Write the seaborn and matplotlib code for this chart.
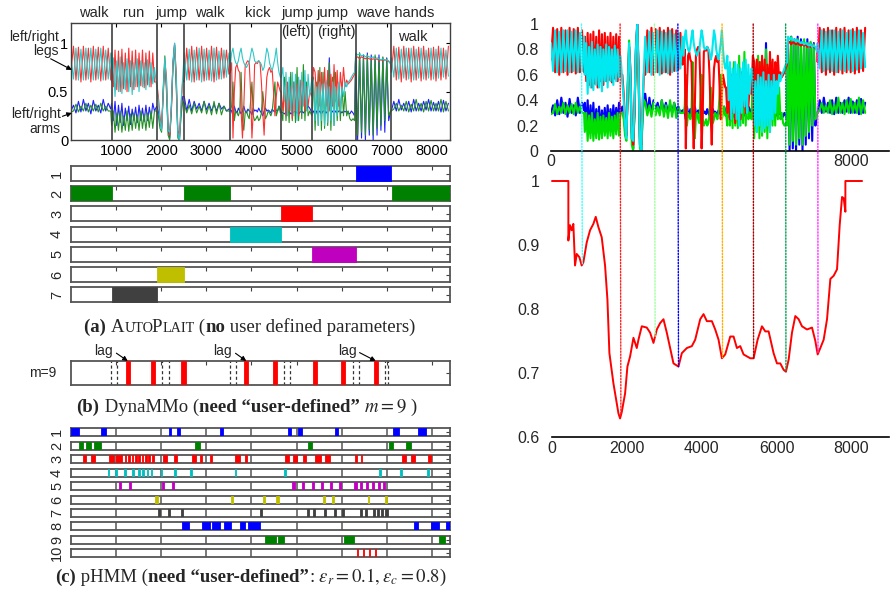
import numpy as np
import pandas as pd
import matplotlib
matplotlib.use("Agg")
import matplotlib.pyplot as plt
import seaborn as sns
from matplotlib.patches import ConnectionPatch
from matplotlib.offsetbox import TextArea, HPacker, AnnotationBbox

sns.set_style("white")
plt.rcParams["font.family"] = ["Liberation Sans", "DejaVu Sans"]
plt.rcParams["mathtext.fontset"] = "stix"

# ---------------- data ----------------
SEG_START = [0, 900, 1900, 2510, 3530, 4660, 5340, 6310, 7100]
SEG_STEP = [55, 38, 36, 55, 30, 35, 35, 43, 55]
BOUNDARIES = [900, 1900, 2510, 3530, 4660, 5340, 6310, 7090]

RED_LEG = [
    [0.72, 0.97, 0.62, 0.96, 0.60, 0.97, 0.62, 0.95, 0.60, 0.97, 0.62, 0.96, 0.61, 0.97, 0.62, 0.95, 0.62],
    [0.9, 0.55, 0.93, 0.52, 0.92, 0.5, 0.94, 0.53, 0.9, 0.5, 0.95, 0.55, 0.92, 0.52, 0.93, 0.55, 0.9, 0.56, 0.93, 0.54, 0.9, 0.57, 0.92, 0.55, 0.9, 0.6],
    [0.6, 0.45, 0.25, 0.12, 0.45, 0.82, 0.65, 0.15, 0.05, 0.3, 0.75, 0.98, 0.7, 0.1, 0.05, 0.35, 0.62],
    [0.6, 0.95, 0.62, 0.97, 0.6, 0.96, 0.62, 0.97, 0.61, 0.95, 0.62, 0.97, 0.6, 0.96, 0.63, 0.95, 0.64, 0.93, 0.68],
    [0.7, 0.8, 0.02, 0.5, 0.75, 0.78, 0.72, 0.7, 0.3, 0.02, 0.35, 0.76, 0.8, 0.82, 0.8, 0.5, 0.02, 0.3, 0.78, 0.8,
     0.79, 0.82, 0.8, 0.6, 0.3, 0.05, 0.4, 0.65, 0.72, 0.75, 0.7, 0.72, 0.5, 0.25, 0.45, 0.6, 0.55, 0.5],
    [0.5, 0.3, 0.55, 0.25, 0.6, 0.3, 0.55, 0.22, 0.6, 0.3, 0.58, 0.25, 0.62, 0.35, 0.6, 0.3, 0.55, 0.35, 0.5],
    [0.45, 0.75, 0.7, 0.4, 0.72, 0.35, 0.7, 0.4, 0.75, 0.35, 0.72, 0.3, 0.68, 0.35, 0.78, 0.4, 0.72, 0.35, 0.7, 0.5,
     0.75, 0.55, 0.62, 0.58, 0.6, 0.62, 0.65, 0.68],
    [0.85, 0.86, 0.84, 0.86, 0.85, 0.84, 0.85, 0.84, 0.83, 0.84, 0.83, 0.84, 0.82, 0.83, 0.82, 0.83, 0.82, 0.81, 0.8],
    [0.7, 0.97, 0.62, 0.96, 0.6, 0.97, 0.62, 0.95, 0.6, 0.97, 0.62, 0.96, 0.61, 0.97, 0.62, 0.95, 0.62, 0.96, 0.61, 0.97,
     0.62, 0.95, 0.63, 0.97],
]
CYAN_LEG = [
    [0.85, 0.63, 0.95, 0.62, 0.94, 0.62, 0.95, 0.63, 0.95, 0.62, 0.94, 0.63, 0.95, 0.62, 0.93, 0.63, 0.90],
    [0.6, 0.85, 0.45, 0.82, 0.5, 0.86, 0.48, 0.8, 0.52, 0.84, 0.5, 0.82, 0.47, 0.8, 0.55, 0.84, 0.5, 0.82, 0.55, 0.8, 0.52, 0.83, 0.55, 0.8, 0.58, 0.75],
    [0.55, 0.4, 0.2, 0.1, 0.5, 0.85, 0.6, 0.1, 0.08, 0.35, 0.8, 1.0, 0.65, 0.05, 0.0, 0.4, 0.65],
    [0.9, 0.62, 0.94, 0.6, 0.93, 0.62, 0.95, 0.6, 0.94, 0.62, 0.93, 0.61, 0.95, 0.62, 0.92, 0.63, 0.93, 0.65, 0.9],
    [0.75, 0.9, 0.95, 0.85, 0.8, 0.78, 0.82, 0.9, 0.95, 0.85, 0.8, 0.77, 0.75, 0.78, 0.8, 0.88, 0.95, 0.9, 0.82, 0.8,
     0.81, 0.82, 0.8, 0.78, 0.72, 0.75, 0.85, 0.95, 0.9, 0.8, 0.75, 0.72, 0.78, 0.85, 0.95, 0.8, 0.7, 0.65],
    [0.65, 0.75, 0.4, 0.7, 0.25, 0.65, 0.3, 0.7, 0.25, 0.68, 0.2, 0.65, 0.3, 0.7, 0.35, 0.72, 0.3, 0.68, 0.45],
    [0.65, 0.6, 0.2, 0.55, 0.15, 0.6, 0.2, 0.58, 0.15, 0.62, 0.18, 0.55, 0.2, 0.6, 0.15, 0.55, 0.25, 0.6, 0.3, 0.55,
     0.45, 0.6, 0.55, 0.6, 0.62, 0.65, 0.68, 0.7],
    [0.9, 0.88, 0.89, 0.87, 0.88, 0.86, 0.87, 0.86, 0.85, 0.86, 0.84, 0.85, 0.84, 0.83, 0.84, 0.82, 0.83, 0.82, 0.78],
    [0.85, 0.65, 0.95, 0.63, 0.94, 0.64, 0.95, 0.63, 0.95, 0.62, 0.94, 0.64, 0.95, 0.63, 0.93, 0.64, 0.95, 0.63, 0.94, 0.64,
     0.95, 0.65, 0.93, 0.66],
]
BLUE_ARM = [
    [0.30, 0.36, 0.28, 0.40, 0.29, 0.42, 0.30, 0.38, 0.27, 0.41, 0.30, 0.36, 0.28, 0.42, 0.30, 0.38, 0.32],
    [0.38, 0.2, 0.4, 0.15, 0.36, 0.18, 0.38, 0.15, 0.33, 0.2, 0.35, 0.16, 0.32, 0.2, 0.34, 0.18, 0.36, 0.2, 0.33, 0.19, 0.36, 0.2, 0.34, 0.22, 0.38, 0.3],
    [0.35, 0.3, 0.18, 0.12, 0.5, 0.8, 0.55, 0.1, 0.02, 0.35, 0.8, 1.0, 0.6, 0.05, 0.0, 0.3, 0.45],
    [0.45, 0.3, 0.42, 0.3, 0.4, 0.32, 0.38, 0.3, 0.4, 0.31, 0.38, 0.3, 0.37, 0.3, 0.38, 0.32, 0.35, 0.3, 0.32],
    [0.32, 0.3, 0.25, 0.35, 0.3, 0.28, 0.33, 0.3, 0.27, 0.3, 0.35, 0.3, 0.28, 0.32, 0.3, 0.29, 0.26, 0.33, 0.3, 0.31,
     0.29, 0.33, 0.3, 0.28, 0.25, 0.3, 0.33, 0.3, 0.31, 0.3, 0.28, 0.32, 0.3, 0.29, 0.31, 0.3, 0.35, 0.32],
    [0.3, 0.28, 0.27, 0.29, 0.28, 0.3, 0.27, 0.28, 0.29, 0.3, 0.28, 0.27, 0.29, 0.3, 0.28, 0.3, 0.32, 0.35, 0.33],
    [0.28, 0.3, 0.25, 0.3, 0.28, 0.3, 0.27, 0.3, 0.3, 0.28, 0.3, 0.85, 0.28, 0.3, 0.27, 0.3, 0.28, 0.3, 0.3, 0.28,
     0.3, 0.29, 0.3, 0.28, 0.27, 0.3, 0.28, 0.25],
    [0.88, 0.0, 0.9, 0.02, 0.88, 0.0, 0.9, 0.05, 0.88, 0.0, 0.86, 0.05, 0.88, 0.1, 0.85, 0.08, 0.85, 0.2, 0.3],
    [0.3, 0.4, 0.3, 0.42, 0.31, 0.38, 0.3, 0.4, 0.29, 0.42, 0.3, 0.38, 0.3, 0.4, 0.31, 0.42, 0.3, 0.39, 0.3, 0.4,
     0.29, 0.41, 0.3, 0.38],
]
GREEN_ARM = [
    [0.29, 0.30, 0.37, 0.29, 0.35, 0.30, 0.38, 0.29, 0.36, 0.30, 0.37, 0.29, 0.38, 0.30, 0.35, 0.30, 0.30],
    [0.15, 0.3, 0.08, 0.28, 0.1, 0.3, 0.08, 0.25, 0.1, 0.3, 0.09, 0.27, 0.1, 0.28, 0.12, 0.26, 0.1, 0.3, 0.12, 0.27, 0.1, 0.28, 0.13, 0.3, 0.12, 0.3],
    [0.3, 0.25, 0.12, 0.08, 0.55, 0.87, 0.5, 0.05, 0.0, 0.3, 0.78, 0.98, 0.55, 0.02, 0.0, 0.25, 0.4],
    [0.38, 0.28, 0.36, 0.27, 0.38, 0.28, 0.35, 0.28, 0.4, 0.27, 0.36, 0.26, 0.4, 0.27, 0.38, 0.26, 0.35, 0.3, 0.3],
    [0.3, 0.35, 0.6, 0.2, 0.3, 0.28, 0.25, 0.3, 0.7, 0.2, 0.1, 0.28, 0.3, 0.25, 0.22, 0.4, 0.6, 0.25, 0.2, 0.22,
     0.25, 0.2, 0.22, 0.28, 0.5, 0.35, 0.22, 0.25, 0.3, 0.28, 0.25, 0.3, 0.45, 0.6, 0.25, 0.3, 0.35, 0.28],
    [0.3, 0.2, 0.65, 0.2, 0.5, 0.18, 0.7, 0.2, 0.6, 0.18, 0.75, 0.2, 0.55, 0.22, 0.78, 0.2, 0.6, 0.25, 0.3],
    [0.25, 0.65, 0.1, 0.6, 0.15, 0.75, 0.1, 0.7, 0.12, 0.6, 0.15, 0.8, 0.1, 0.65, 0.15, 0.7, 0.2, 0.55, 0.2, 0.6,
     0.25, 0.5, 0.25, 0.3, 0.22, 0.2, 0.22, 0.2],
    [0.85, 0.05, 0.9, 0.08, 0.86, 0.05, 0.88, 0.1, 0.85, 0.05, 0.88, 0.12, 0.85, 0.15, 0.86, 0.2, 0.84, 0.25, 0.3],
    [0.3, 0.32, 0.38, 0.3, 0.36, 0.3, 0.4, 0.29, 0.37, 0.3, 0.42, 0.3, 0.38, 0.29, 0.4, 0.3, 0.41, 0.3, 0.38, 0.3,
     0.42, 0.29, 0.4, 0.3],
]

MOTION_LABELS = [("walk", 508, 1.315), ("run", 1391, 1.315), ("jump", 2230, 1.315), ("walk", 3069, 1.315),
                 ("kick", 4129, 1.315), ("jump", 5012, 1.315), ("(left)", 4990, 1.118), ("jump", 5785, 1.315),
                 ("(right)", 5873, 1.118), ("wave hands", 7176, 1.315), ("walk", 7573, 1.066)]

# AutoPlait segmentation: (start, duration) per regime
AP_COLORS = ["#0000ff", "#008000", "#ff0000", "#00bfbf", "#bf00bf", "#bfbf00", "#404040"]
AP_SEGS = [
    [(6310, 780)],
    [(0, 900), (2510, 1020), (7110, 1290)],
    [(4660, 680)],
    [(3530, 1130)],
    [(5340, 970)],
    [(1900, 610)],
    [(900, 1000)],
]

# DynaMMo
DM_CUTS = [1258, 1810, 2494, 3885, 4525, 5408, 6026, 6755]
DM_DASHED = [883, 1030, 2024, 2171, 3533, 3658, 4711, 4843, 6256, 6388, 6955, 7029]
DM_LAG = [(900, 1258), (3540, 3885), (6290, 6755)]

# pHMM segmentation
PH_COLORS = ["#0000ff", "#008000", "#ff0000", "#00bfbf", "#bf00bf", "#bfbf00", "#404040", "#0000ff", "#008000", "#ff0000"]
PH_SEGS = [
    [(0, 180), (662, 117), (2170, 53), (2356, 57), (3297, 75), (4807, 73), (5028, 88), (5851, 73), (7139, 125), (7690, 170)],
    [(183, 75), (331, 111), (515, 147), (2738, 132), (5248, 89), (7044, 88), (7434, 95)],
    [(258, 73), (442, 88), (832, 111), (994, 147), (1192, 37), (1273, 37), (1347, 37), (1413, 44), (1487, 44), (1568, 37),
     (1641, 37), (1715, 37), (1788, 52), (2046, 88), (2282, 59), (2686, 74), (2856, 51), (3077, 51), (3643, 96), (3849, 52),
     (4747, 74), (4931, 88), (5152, 52), (5410, 125), (5630, 111), (6293, 37), (6418, 37), (7346, 88), (7529, 89), (7911, 75)],
    [(810, 40), (972, 40), (1177, 35), (1362, 35), (1487, 35), (1583, 35), (1678, 35), (1766, 35), (1987, 35), (2282, 35),
     (2634, 40), (3628, 40), (4725, 35), (6830, 35), (7301, 40), (7890, 35)],
    [(1067, 45), (1288, 40), (2024, 45), (2230, 45), (4909, 50), (5130, 45), (5336, 40), (5542, 40), (5741, 40), (5940, 45),
     (6278, 50), (6403, 50), (6529, 50), (6661, 50), (6794, 50), (6918, 45)],
    [(1862, 66), (3555, 45), (4247, 50), (4548, 60), (5594, 40), (5778, 45), (6573, 35), (6970, 35)],
    [(1935, 45), (2149, 40), (2429, 50), (4195, 40), (5226, 40), (5373, 40), (5615, 40), (5829, 40), (6013, 40), (6403, 40),
     (6514, 45), (6698, 50), (6771, 50), (6867, 50), (6970, 45)],
    [(2466, 147), (2907, 170), (3128, 169), (3385, 163), (3739, 125), (3915, 280), (7603, 87), (7986, 162), (8318, 82)],
    [(4306, 235), (4585, 125), (6057, 221), (8148, 147)],
    [(6344, 22), (6476, 22), (6602, 22), (6734, 22)],
]

# Right panel: score curve
SCORE_X = [0, 437, 437, 481, 526, 570, 615, 660, 731, 793, 838, 927, 1016, 1105, 1168, 1239, 1328, 1417, 1480, 1533,
           1640, 1774, 1818, 1863, 1952, 2014, 2086, 2175, 2264, 2309, 2398, 2531, 2621, 2710, 2799, 2888, 2977, 3066,
           3155, 3244, 3378, 3467, 3601, 3735, 3824, 3958, 4047, 4136, 4270, 4359, 4448, 4537, 4626, 4760, 4849, 4938,
           5027, 5116, 5295, 5384, 5491, 5607, 5696, 5785, 5918, 6008, 6097, 6186, 6248, 6320, 6409, 6498, 6587, 6676,
           6810, 6944, 7033, 7095, 7166, 7255, 7345, 7434, 7523, 7612, 7683, 7746, 7790, 7835, 7835, 8281]
SCORE_Y = [1.0, 1.0, 0.907, 0.931, 0.923, 0.933, 0.868, 0.886, 0.881, 0.868, 0.873, 0.904, 0.923, 0.933, 0.944, 0.928,
           0.912, 0.868, 0.815, 0.731, 0.684, 0.637, 0.629, 0.639, 0.668, 0.710, 0.726, 0.755, 0.739, 0.752, 0.773,
           0.771, 0.763, 0.747, 0.768, 0.778, 0.784, 0.763, 0.739, 0.715, 0.710, 0.731, 0.739, 0.742, 0.752, 0.784,
           0.792, 0.781, 0.781, 0.768, 0.752, 0.723, 0.729, 0.757, 0.757, 0.739, 0.742, 0.729, 0.723, 0.723, 0.752,
           0.773, 0.765, 0.765, 0.731, 0.715, 0.715, 0.705, 0.702, 0.721, 0.763, 0.789, 0.784, 0.773, 0.768, 0.771,
           0.750, 0.729, 0.739, 0.752, 0.784, 0.847, 0.852, 0.862, 0.931, 0.975, 0.973, 0.952, 1.0, 1.0]
CUT_X = [811, 1840, 2754, 3378, 4555, 5384, 6248, 7104]
CUT_COLORS = ["#40ffff", "#ff2020", "#a0ffa0", "#0000ff", "#ffb000", "#b00000", "#00a050", "#ff30ff"]

# ---------------- figure ----------------
W, H = 891, 589
fig = plt.figure(figsize=(W / 100, H / 100), dpi=100)


def fax(l, t, r, b):
    return fig.add_axes([l / W, 1 - b / H, (r - l) / W, (b - t) / H])


time = np.concatenate([s + st * np.arange(len(seg)) for s, st, seg in zip(SEG_START, SEG_STEP, RED_LEG)])
flat = lambda L: [v for seg in L for v in seg]
df = pd.concat([
    pd.DataFrame({"t": time, "v": flat(L), "s": name})
    for name, L in [("red", RED_LEG), ("cyan", CYAN_LEG), ("blue", BLUE_ARM), ("green", GREEN_ARM)]
])

SANS = 10.5
GRAY = "#404040"

# ---- top-left time series ----
ax0 = fax(71, 23, 450, 140)
sns.lineplot(data=df, x="t", y="v", hue="s", estimator=None, sort=False, legend=False, ax=ax0, lw=0.8,
             palette={"red": "#ff3030", "cyan": "#30c8c8", "blue": "#2020ff", "green": "#259025"},
             hue_order=["blue", "green", "red", "cyan"])
for b in BOUNDARIES:
    ax0.axvline(b, color=GRAY, lw=1.2)
ax0.set_xlim(0, 8400)
ax0.set_ylim(0, 1.21)
ax0.set_xticks(range(1000, 9000, 1000))
ax0.set_yticks([0, 0.5, 1])
ax0.set_yticklabels(["0", "0.5", "1"])
ax0.tick_params(direction="in", length=3, top=True, right=True, labelsize=SANS, pad=3, colors="black")
ax0.tick_params(axis="y", pad=2)
ax0.set_xlabel("")
ax0.set_ylabel("")
for sp in ax0.spines.values():
    sp.set_color(GRAY)
    sp.set_linewidth(1)
for txt, x, y in MOTION_LABELS:
    ax0.text(x, y, txt, ha="center", va="center", fontsize=SANS, clip_on=False)
# side labels with arrows (x in data units left of the axis)
ax0.text(-270, 0.995, "left/right\nlegs", ha="right", va="center", fontsize=10, linespacing=1.05, clip_on=False)
ax0.annotate("", xy=(20, 0.725), xytext=(-450, 0.84), annotation_clip=False,
             arrowprops=dict(arrowstyle="-|>", color="black", lw=0.8, mutation_scale=7, shrinkA=0, shrinkB=0))
ax0.text(-230, 0.19, "left/right\narms", ha="right", va="center", fontsize=10, linespacing=1.05, clip_on=False)
ax0.annotate("", xy=(20, 0.28), xytext=(-190, 0.245), annotation_clip=False,
             arrowprops=dict(arrowstyle="-|>", color="black", lw=0.8, mutation_scale=7, shrinkA=0, shrinkB=0))


def row_axes(top, h, label, grid=False, lab_x=57):
    ax = fax(71, top, 450, top + h)
    ax.set_xlim(0, 8400)
    ax.set_ylim(0, 1)
    ax.set_xticks(range(1000, 9000, 1000))
    ax.set_yticks([0.5])
    ax.tick_params(direction="in", length=3 if not grid else 0, top=True, right=True,
                   labelbottom=False, labelleft=False, colors=GRAY)
    ax.tick_params(axis="y", length=3)
    for sp in ax.spines.values():
        sp.set_color("#555555")
        sp.set_linewidth(1.3)
    if grid:
        ax.vlines(range(1000, 9000, 1000), 0, 1, color="#555555", lw=1.1)
    if label:
        fig.text(lab_x / W, 1 - (top + h / 2) / H, label, rotation=90, ha="center", va="center", fontsize=SANS)
    return ax


def bars(ax, segs, color):
    ax.broken_barh(segs, (0, 1), facecolors=color, edgecolors=color, linewidth=0.6, zorder=3)


# ---- (a) AutoPlait ----
for i, segs in enumerate(AP_SEGS):
    ax = row_axes(166 + 20.2 * i, 15, str(i + 1))
    bars(ax, segs, AP_COLORS[i])

# ---- (b) DynaMMo ----
axd = row_axes(361, 24, "")
fig.text(43 / W, 1 - 373 / H, "m=9", ha="center", va="center", fontsize=SANS * 0.95)
for x in DM_DASHED:
    axd.axvline(x, color="#333333", lw=0.9, ls=(0, (2.5, 2)))
bars(axd, [(c - 45, 90) for c in DM_CUTS], "#ff0000")
for tx, x in DM_LAG:
    axd.annotate("lag", xy=(x, 1.0), xytext=(tx - 380, 1.42), ha="left", va="center", fontsize=SANS * 0.95,
                 annotation_clip=False,
                 arrowprops=dict(arrowstyle="-|>", color="black", lw=0.8, mutation_scale=7, shrinkA=0, shrinkB=0,
                                 relpos=(1.0, 0.5)))

# ---- (c) pHMM ----
for i, segs in enumerate(PH_SEGS):
    ax = row_axes(428.3 + 13.44 * i, 8, str(i + 1), grid=True)
    bars(ax, segs, PH_COLORS[i])


# ---- captions ----
def ta(s, fs, fw="normal"):
    return TextArea(s, textprops=dict(fontfamily="Liberation Serif", fontsize=fs, fontweight=fw,
                                      math_fontfamily="stix"))


def caption(kids, x, y):
    box = HPacker(children=kids, align="baseline", pad=0, sep=0)
    fig.add_artist(AnnotationBbox(box, (x / W, 1 - y / H), xycoords="figure fraction", frameon=False,
                                  box_alignment=(0.5, 0.5), pad=0))


CF = 13.5
SC = 10.2
smallcaps = HPacker(children=[ta("A", CF), ta("UTO", SC)], align="baseline", pad=0, sep=0)
smallcaps2 = HPacker(children=[ta("P", CF), ta("LAIT", SC)], align="baseline", pad=0, sep=0)
name_box = HPacker(children=[smallcaps, smallcaps2], align="baseline", pad=0, sep=-1.2)
caption([ta("(a) ", CF, "bold"), name_box, ta(" (", CF), ta("no", CF, "bold"),
         ta(" user defined parameters)", CF)], 250, 327)
caption([ta("(b)", CF, "bold"), ta(" DynaMMo (", CF), ta("need \u201cuser-defined\u201d", CF, "bold"),
         ta(" $m=9$ )", CF)], 247, 407)
caption([ta("(c)", CF, "bold"), ta(" pHMM (", CF), ta("need \u201cuser-defined\u201d", CF, "bold"),
         ta(": $\\epsilon_r=0.1, \\epsilon_c=0.8$)", CF)], 251, 577)

# ---- right top ----
RF = 11.5
axr = fax(551, 24, 889, 151)
sns.lineplot(data=df, x="t", y="v", hue="s", estimator=None, sort=False, legend=False, ax=axr, lw=1.5,
             palette={"red": "#ff0000", "cyan": "#00e8f0", "blue": "#0000ff", "green": "#00e000"},
             hue_order=["blue", "green", "red", "cyan"])
axr.set_xlim(0, 9000)
axr.set_ylim(0, 1)
axr.set_xticks([0, 2000, 4000, 6000, 8000])
axr.set_xticklabels(["0", "", "", "", "8000"])
axr.set_yticks([0, 0.2, 0.4, 0.6, 0.8, 1])
axr.set_yticklabels(["0", "0.2", "0.4", "0.6", "0.8", "1"])
axr.tick_params(axis="x", direction="in", length=3, labelsize=RF, pad=2)
axr.tick_params(axis="y", length=0, labelsize=RF, pad=9)
axr.set_xlabel("")
axr.set_ylabel("")
for s in ["left", "top", "right"]:
    axr.spines[s].set_visible(False)
axr.spines["bottom"].set_linewidth(1.2)
axr.spines["bottom"].set_color("black")

# ---- right bottom ----
axb = fax(552, 181, 889, 437)
sns.lineplot(x=SCORE_X, y=SCORE_Y, estimator=None, sort=False, color="#ff0000", lw=1.4, ax=axb, clip_on=False)
axb.set_xlim(0, 9000)
axb.set_ylim(0.6, 1.0)
axb.set_xticks([0, 2000, 4000, 6000, 8000])
axb.set_yticks([0.6, 0.7, 0.8, 0.9, 1.0])
axb.set_yticklabels(["0.6", "0.7", "0.8", "0.9", "1"])
axb.tick_params(axis="x", direction="in", length=4, labelsize=RF, pad=3)
axb.tick_params(axis="y", length=0, labelsize=RF, pad=9)
for s in ["left", "top", "right"]:
    axb.spines[s].set_visible(False)
axb.spines["bottom"].set_linewidth(1.2)
axb.spines["bottom"].set_color("black")

for x, c in zip(CUT_X, CUT_COLORS):
    yb = float(np.interp(x, SCORE_X, SCORE_Y))
    con = ConnectionPatch(xyA=(x, 1.0), coordsA=axr.transData, xyB=(x, yb), coordsB=axb.transData,
                          color=c, lw=1.0, ls=(0, (1, 1.2)), zorder=5)
    fig.add_artist(con)

fig.savefig("out.png", dpi=100)
